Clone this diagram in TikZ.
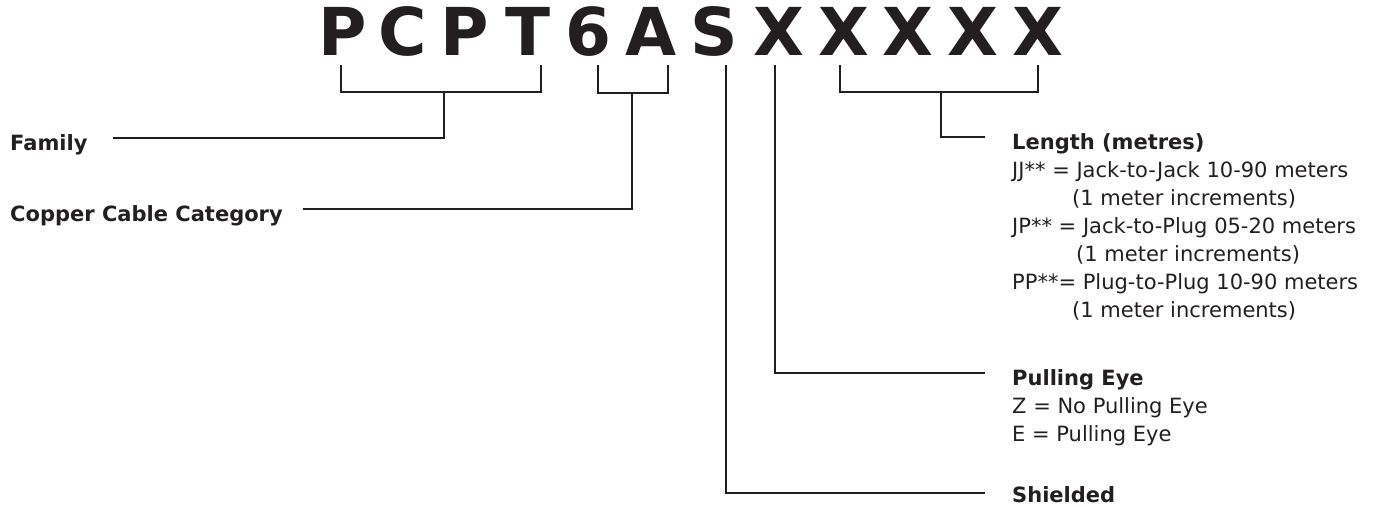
\documentclass[tikz,border=0pt]{standalone}
\usepackage{fontspec}
\setmainfont{DejaVu Sans}
\usepackage{tikz}
\usetikzlibrary{positioning}
\definecolor{ink}{HTML}{231F20}

\begin{document}
\begin{tikzpicture}[
  x=1pt, y=-1pt,
  code/.style={font=\fontsize{66}{66}\selectfont\bfseries, text=ink, inner sep=0pt, anchor=base},
  tag/.style={font=\fontsize{21}{28}\selectfont, text=ink, inner sep=0pt, align=left, anchor=north west},
  link/.style={draw=ink, line width=2.4pt}
]
\useasboundingbox (0,0) rectangle (1373,506);
\foreach \ch/\x [count=\i] in {P/343,C/403,P/465,T/528,6/588,A/651,S/714,X/779,X/844,X/908,X/973,X/1038}
  \node[code] (l\i) at (\x,55) {\ch};

\node[tag] (fam) at (10,134) {\textbf{Family}};
\node[tag] (cat) at (10,205) {\textbf{Copper Cable Category}};
\node[tag] (len) at (1012,133) {\textbf{Length (metres)}\\
  JJ** = Jack-to-Jack 10-90 meters\\
  \hspace*{60pt}(1 meter increments)\\
  JP** = Jack-to-Plug 05-20 meters\\
  \hspace*{64pt}(1 meter increments)\\
  PP**= Plug-to-Plug 10-90 meters\\
  \hspace*{60pt}(1 meter increments)};
\node[tag] (pull) at (1012,369) {\textbf{Pulling Eye}\\
  Z = No Pulling Eye\\
  E = Pulling Eye};
\node[tag] (shield) at (1012,486) {\textbf{Shielded}};

\coordinate (fam-l) at (341,65);
\coordinate (fam-r) at (541,65);
\coordinate (fam-m) at (444,92);
\coordinate (fam-end) at (113,138);
\coordinate (cat-l) at (598,65);
\coordinate (cat-r) at (668,65);
\coordinate (cat-m) at (632,93);
\coordinate (cat-end) at (303,209);
\coordinate (len-l) at (840,65);
\coordinate (len-r) at (1038,65);
\coordinate (len-m) at (941,92);
\coordinate (len-end) at (985,137);
\coordinate (pull-top) at (775,65);
\coordinate (pull-end) at (985,373);
\coordinate (shield-top) at (726,65);
\coordinate (shield-end) at (985,493);

\draw[link] (fam-l) |- (fam-m) -| (fam-r);
\draw[link] (fam-m) |- (fam-end);
\draw[link] (cat-l) |- (cat-m) -| (cat-r);
\draw[link] (cat-m) |- (cat-end);
\draw[link] (len-l) |- (len-m) -| (len-r);
\draw[link] (len-m) |- (len-end);
\draw[link] (pull-top) |- (pull-end);
\draw[link] (shield-top) |- (shield-end);
\end{tikzpicture}
\end{document}
